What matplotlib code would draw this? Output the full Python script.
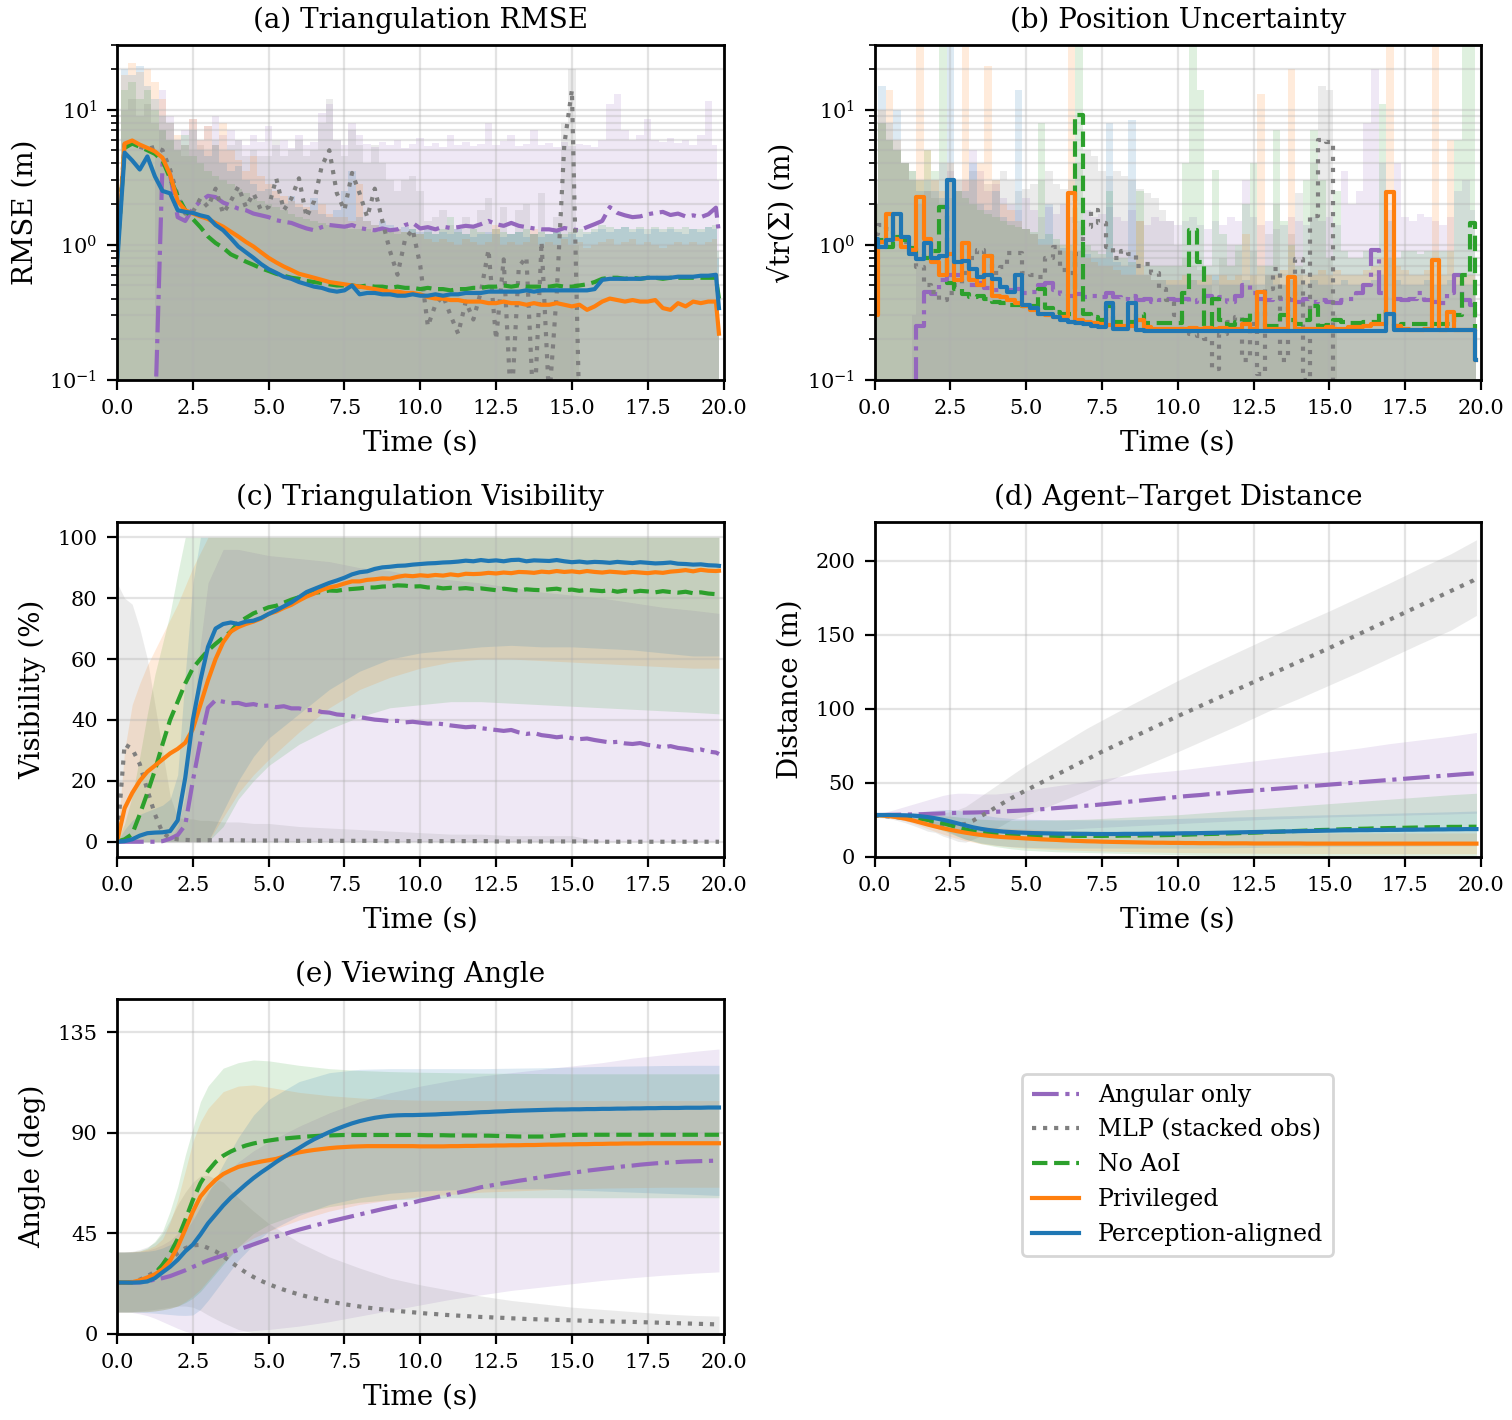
import numpy as np
import matplotlib
matplotlib.use("Agg")
import matplotlib.pyplot as plt
from matplotlib.ticker import FormatStrFormatter

plt.rcParams.update({
    "font.family": "DejaVu Serif",
    "mathtext.fontset": "dejavuserif",
    "font.size": 9,
})

nan = float("nan")

# ---------------- sample times (s) ----------------
T = [i * 0.25 for i in range(80)] + [19.85]
TB = [0, 0.25, 0.5, 0.75, 1.0, 1.25, 1.5, 1.75, 2.0, 2.25, 2.5, 2.75, 3.0, 3.5, 4.0, 4.5, 5.0,
      6.0, 7.0, 8.0, 9.0, 10.0, 11.0, 12.0, 13.0, 14.0, 15.0, 16.0, 17.0, 18.0, 19.0, 19.85]

METHODS = ["Angular only", "MLP (stacked obs)", "No AoI", "Privileged", "Perception-aligned"]
COLORS = ["#9467bd", "#7f7f7f", "#2ca02c", "#ff7f0e", "#1f77b4"]
STYLES = ["-.", ":", "--", "-", "-"]
XTICKS = [0, 2.5, 5, 7.5, 10, 12.5, 15, 17.5, 20]

# ---------------- (a) Triangulation RMSE (m) ----------------
RMSE_ANG = [nan, nan, nan, nan, nan, 0.05, 4.0, 3.3,
            1.6, 1.5, 1.85, 2.1, 2.3, 2.25, 2.05, 1.95,
            1.85, 1.8, 1.7, 1.65, 1.6, 1.52, 1.48, 1.45,
            1.38, 1.32, 1.28, 1.35, 1.4, 1.38, 1.36, 1.4,
            1.33, 1.3, 1.28, 1.32, 1.28, 1.3, 1.4, 1.45,
            1.32, 1.35, 1.3, 1.36, 1.33, 1.35, 1.38, 1.36,
            1.42, 1.5, 1.42, 1.38, 1.45, 1.38, 1.35, 1.32,
            1.3, 1.3, 1.27, 1.33, 1.3, 1.28, 1.35, 1.42,
            1.5, 1.9, 1.72, 1.65, 1.6, 1.62, 1.68, 1.72,
            1.75, 1.66, 1.7, 1.62, 1.65, 1.6, 1.68, 1.88,
            1.2]
RMSE_MLP = [0.8, 5.8, 5.6, 5.3, 5.1, 5.3, 5.0, 3.6,
            2.3, 1.7, 1.75, 2.2, 1.9, 2.6, 1.7, 2.1,
            2.7, 1.9, 2.4, 1.8, 1.9, 3.1, 1.8, 2.2,
            3.1, 1.6, 2.1, 3.8, 5.0, 2.4, 1.8, 3.4,
            2.4, 1.6, 2.6, 1.5, 0.9, 0.6, 1.1, 1.3,
            0.7, 0.25, 0.36, 0.42, 0.3, 0.22, 0.38, 0.28,
            0.45, 0.92, 0.2, 0.78, 0.06, 0.69, 0.81, 0.05,
            1.05, 0.07, 0.44, 5.5, 13.9, 0.05, nan, nan,
            nan, nan, nan, nan, nan, nan, nan, nan,
            nan, nan, nan, nan, nan, nan, nan, nan,
            nan]
RMSE_NOAOI = [0.8, 5.2, 5.6, 5.3, 5.0, 4.7, 4.2, 3.1,
              2.3, 1.8, 1.55, 1.35, 1.15, 1.03, 0.95, 0.85,
              0.8, 0.75, 0.71, 0.67, 0.64, 0.61, 0.59, 0.57,
              0.56, 0.54, 0.53, 0.52, 0.51, 0.5, 0.5, 0.5,
              0.49, 0.5, 0.49, 0.49, 0.48, 0.49, 0.48, 0.48,
              0.47, 0.48, 0.47, 0.47, 0.46, 0.47, 0.47, 0.48,
              0.48, 0.49, 0.49, 0.5, 0.49, 0.5, 0.49, 0.49,
              0.49, 0.49, 0.5, 0.49, 0.49, 0.5, 0.51, 0.53,
              0.56, 0.57, 0.57, 0.56, 0.57, 0.56, 0.57, 0.57,
              0.56, 0.57, 0.57, 0.57, 0.57, 0.57, 0.57, 0.57,
              0.4]
RMSE_PRIV = [0.8, 5.6, 5.9, 5.5, 5.2, 4.9, 4.4, 3.3,
             2.1, 1.8, 1.7, 1.62, 1.55, 1.45, 1.36, 1.25,
             1.15, 1.05, 0.97, 0.88, 0.8, 0.74, 0.69, 0.65,
             0.61, 0.59, 0.57, 0.55, 0.53, 0.52, 0.51, 0.5,
             0.49, 0.48, 0.47, 0.46, 0.45, 0.45, 0.44, 0.44,
             0.43, 0.41, 0.4, 0.4, 0.39, 0.39, 0.38, 0.38,
             0.38, 0.37, 0.37, 0.38, 0.37, 0.37, 0.36, 0.37,
             0.36, 0.36, 0.37, 0.36, 0.35, 0.36, 0.33, 0.35,
             0.38, 0.4, 0.39, 0.38, 0.39, 0.38, 0.38, 0.39,
             0.34, 0.33, 0.37, 0.35, 0.38, 0.37, 0.38, 0.38,
             0.22]
RMSE_PERC = [0.7, 4.8, 4.2, 3.6, 4.5, 3.2, 2.5, 2.4,
             1.8, 1.75, 1.72, 1.65, 1.6, 1.4, 1.28, 1.12,
             0.97, 0.88, 0.8, 0.72, 0.66, 0.62, 0.58, 0.56,
             0.53, 0.51, 0.49, 0.48, 0.46, 0.45, 0.46, 0.5,
             0.43, 0.44, 0.44, 0.43, 0.43, 0.42, 0.42, 0.43,
             0.42, 0.42, 0.43, 0.42, 0.43, 0.43, 0.44, 0.44,
             0.44, 0.45, 0.45, 0.45, 0.45, 0.45, 0.46, 0.45,
             0.46, 0.46, 0.46, 0.46, 0.46, 0.46, 0.46, 0.47,
             0.55, 0.56, 0.56, 0.56, 0.56, 0.56, 0.57, 0.57,
             0.57, 0.57, 0.58, 0.58, 0.58, 0.59, 0.59, 0.6,
             0.34]
# upper edge of the shaded spread (lower edge lies below the axis)
RMSE_ANG_HI = [nan, nan, nan, nan, nan, 5, 14, 9,
               6, 7, 8.5, 6, 7.5, 9, 6.5, 7,
               6, 5.5, 6.5, 5.8, 7.5, 5.5, 6, 5.2,
               6.5, 5.5, 5.8, 9.5, 11, 6, 5.5, 8,
               6.5, 5.6, 5.3, 5.8, 5.5, 6.0, 5.2, 5.6,
               6.2, 5.4, 5.7, 5.3, 6.5, 5.5, 5.8, 5.4,
               5.6, 8.0, 5.5, 5.9, 6.5, 5.4, 5.6, 7.0,
               5.5, 5.7, 5.3, 5.8, 5.4, 5.6, 5.5, 5.3,
               6.0, 11, 13, 7, 6.0, 6.5, 8.5, 6.0,
               5.8, 6.2, 5.7, 6.0, 5.5, 6.5, 11.5, 5.5,
               3]
RMSE_MLP_HI = [1.5, 10, 12, 9, 11, 8, 7, 6,
               5, 4.5, 5, 5.5, 5, 6, 5, 5.5,
               6, 4.5, 5, 4.5, 4.5, 6, 4.5, 5,
               6, 4.5, 5, 8, 12, 6, 4.5, 7,
               5.5, 4, 5.5, 4, 3, 2.5, 3, 3.2,
               2.5, 1.5, 1.6, 1.8, 1.4, 1.3, 1.6, 1.4,
               1.8, 2.2, 1.3, 1.9, 1.2, 1.8, 2.0, 1.2,
               2.4, 1.2, 1.6, 8, 20, 1.0, nan, nan,
               nan, nan, nan, nan, nan, nan, nan, nan,
               nan, nan, nan, nan, nan, nan, nan, nan,
               nan]
RMSE_NOAOI_HI = [1.5, 14, 16, 12, 14, 10, 7, 6,
                 5, 6.5, 4.5, 4, 3.5, 3.2, 3.0, 2.8,
                 2.6, 2.4, 2.2, 2.1, 2.0, 1.9, 1.8, 1.7,
                 1.6, 1.55, 1.5, 1.45, 1.4, 1.4, 1.35, 1.3,
                 1.3, 1.3, 1.25, 1.3, 1.25, 1.2, 1.25, 1.3,
                 1.2, 1.25, 1.2, 1.3, 1.6, 1.25, 1.2, 1.3,
                 1.25, 1.2, 1.3, 1.25, 1.2, 1.25, 1.3, 1.2,
                 1.25, 1.2, 1.25, 1.2, 1.25, 1.3, 1.25, 1.3,
                 1.4, 1.35, 1.3, 1.35, 1.3, 1.35, 1.3, 1.35,
                 1.3, 1.35, 1.3, 1.35, 1.3, 1.3, 1.35, 1.4,
                 0.9]
RMSE_PRIV_HI = [1.5, 18, 22, 19, 20, 16, 12, 8,
                6.5, 5.5, 8.5, 6, 7.5, 5.5, 8.0, 5,
                4.2, 3.5, 4.5, 3.2, 2.8, 2.5, 2.3, 2.1,
                2.0, 1.9, 1.8, 2.0, 1.7, 1.6, 1.6, 1.5,
                2.8, 1.5, 1.4, 1.35, 1.3, 1.3, 1.25, 1.2,
                1.2, 1.1, 1.05, 1.1, 1.05, 1.0, 1.1, 1.05,
                1.0, 1.05, 1.4, 1.0, 1.05, 1.0, 1.05, 1.3,
                1.0, 1.05, 1.0, 1.1, 1.0, 1.05, 0.95, 1.0,
                1.05, 1.1, 1.0, 1.05, 1.1, 1.0, 1.05, 1.0,
                0.95, 1.0, 1.05, 1.0, 1.05, 1.0, 1.05, 1.1,
                0.6]
RMSE_PERC_HI = [1.5, 20, 18, 21, 15, 12, 9, 8,
                6, 5.5, 7, 5, 4.5, 5.5, 4, 3.5,
                3.8, 3.0, 2.8, 2.5, 2.6, 2.2, 2.0, 2.3,
                1.9, 1.8, 2.2, 1.7, 1.6, 1.8, 2.5, 3.5,
                1.6, 1.5, 1.4, 1.5, 1.4, 1.3, 1.35, 1.3,
                1.25, 1.3, 1.2, 1.25, 1.2, 1.3, 1.2, 1.15,
                1.2, 1.25, 1.2, 1.15, 1.2, 1.25, 1.15, 1.2,
                1.15, 1.2, 1.25, 1.15, 1.2, 1.15, 1.2, 1.25,
                1.3, 1.25, 1.3, 1.35, 1.25, 1.3, 1.2, 1.3,
                1.25, 1.3, 1.25, 1.2, 1.3, 1.25, 1.35, 1.3,
                0.8]

# ---------------- (b) Position uncertainty sqrt(tr(Sigma)) (m) ----------------
UNC_ANG = [nan, nan, nan, nan, nan, 0.05, 0.25, 0.45,
           0.43, 0.55, 0.6, 0.6, 0.58, 0.5, 0.52, 0.48,
           0.46, 0.46, 0.46, 0.47, 0.44, 0.45, 0.5, 0.52,
           0.46, 0.43, 0.42, 0.43, 0.41, 0.42, 0.41, 0.44,
           0.41, 0.4, 0.42, 0.39, 0.4, 0.38, 0.39, 0.4,
           0.39, 0.4, 0.38, 0.39, 0.42, 0.4, 0.41, 0.38,
           0.42, 0.5, 0.44, 0.4, 0.39, 0.4, 0.4, 0.39,
           0.38, 0.4, 0.38, 0.39, 0.38, 0.37, 0.39, 0.4,
           0.44, 0.5, 0.92, 0.44, 0.39, 0.4, 0.39, 0.4,
           0.44, 0.39, 0.38, 0.37, 0.44, 0.6, 0.39, 0.36,
           0.3]
UNC_MLP = [1.2, 1.4, 1.3, 1.2, 1.05, 0.85, 0.68, 0.5,
           0.45, 0.39, 0.44, 0.5, 0.62, 0.8, 0.92, 0.82,
           0.62, 0.69, 0.87, 0.87, 0.62, 0.6, 0.58, 0.8,
           0.97, 0.65, 0.62, 0.85, 1.36, 1.8, 1.45, 0.97,
           0.8, 0.9, 0.85, 0.7, 0.72, 0.62, 0.47, 0.39,
           0.3, 0.23, 0.22, 0.21, 0.2, 0.12, 0.22, 0.27,
           0.29, 0.14, 0.26, 0.11, 0.47, 0.66, 0.14, 0.4,
           0.79, 0.1, 1.62, 5.95, 5.8, 0.05, nan, nan,
           nan, nan, nan, nan, nan, nan, nan, nan,
           nan, nan, nan, nan, nan, nan, nan, nan,
           nan]
UNC_NOAOI = [0.97, 1.09, 0.97, 1.15, 1.09, 0.95, 0.85, 0.8,
             0.9, 1.9, 0.52, 0.47, 0.43, 0.41, 0.42, 0.4,
             0.38, 0.37, 0.36, 0.36, 0.35, 0.35, 0.47, 0.34,
             0.32, 0.31, 0.31, 9.1, 0.31, 0.29, 0.28, 0.35,
             0.27, 0.27, 0.27, 0.31, 0.265, 0.265, 0.265, 0.265,
             0.265, 0.44, 1.29, 0.75, 0.25, 0.4, 0.28, 0.255,
             0.27, 0.28, 0.32, 0.25, 0.25, 0.25, 0.3, 0.28,
             0.26, 0.28, 0.35, 0.25, 0.255, 0.28, 0.27, 0.265,
             0.265, 0.27, 0.27, 0.32, 0.25, 0.25, 0.26, 0.26,
             0.26, 0.26, 0.26, 0.26, 0.26, 0.3, 0.6, 1.45,
             0.23]
UNC_PRIV = [0.3, 1.05, 1.7, 1.1, 0.97, 0.92, 2.27, 1.1,
            0.75, 0.6, 0.85, 0.55, 1.03, 0.55, 0.5, 0.82,
            0.42, 0.41, 0.39, 0.37, 0.35, 0.33, 0.31, 0.3,
            0.29, 0.29, 2.4, 0.28, 0.27, 0.265, 0.26, 0.255,
            0.25, 0.25, 0.25, 0.28, 0.245, 0.24, 0.24, 0.24,
            0.24, 0.24, 0.242, 0.24, 0.241, 0.24, 0.242, 0.24,
            0.24, 0.26, 0.24, 0.45, 0.24, 0.24, 0.24, 0.58,
            0.24, 0.24, 0.24, 0.24, 0.245, 0.24, 0.24, 0.245,
            0.245, 0.25, 0.26, 0.26, 2.47, 0.25, 0.24, 0.235,
            0.235, 0.24, 0.775, 0.235, 0.32, 0.235, 0.235, 0.235,
            0.14]
UNC_PERC = [1.1, 0.97, 1.09, 1.7, 1.15, 0.85, 0.78, 1.03,
            0.8, 0.82, 3.0, 0.74, 0.76, 0.66, 0.58, 0.6,
            0.56, 0.49, 0.45, 0.6, 0.36, 0.34, 0.31, 0.31,
            0.29, 0.28, 0.27, 0.265, 0.26, 0.25, 0.245, 0.37,
            0.24, 0.24, 0.37, 0.235, 0.23, 0.23, 0.23, 0.23,
            0.23, 0.23, 0.23, 0.23, 0.23, 0.23, 0.23, 0.23,
            0.23, 0.23, 0.23, 0.23, 0.23, 0.23, 0.23, 0.23,
            0.23, 0.23, 0.23, 0.23, 0.23, 0.23, 0.23, 0.23,
            0.23, 0.23, 0.23, 0.23, 0.31, 0.235, 0.235, 0.235,
            0.235, 0.235, 0.235, 0.235, 0.235, 0.235, 0.235, 0.235,
            0.14]
UNC_ANG_HI = [nan, nan, nan, nan, nan, 0.3, 2, 2.5,
              3, 4, 3.5, 2.5, 3, 5, 3.5, 2.5,
              2.8, 2.2, 2.0, 1.8, 2.2, 1.8, 1.6, 1.9,
              1.7, 2.0, 1.6, 1.5, 1.8, 1.6, 1.7, 1.9,
              1.6, 1.5, 1.8, 1.5, 1.4, 1.6, 1.5, 1.5,
              1.4, 1.5, 1.6, 1.4, 1.3, 1.5, 1.4, 1.6,
              1.5, 3.0, 1.6, 1.4, 1.5, 1.3, 1.4, 1.6,
              1.5, 1.4, 1.6, 1.5, 1.6, 1.4, 3.5, 2.0,
              2.5, 8, 20, 4, 1.8, 4, 1.6, 1.5,
              1.7, 1.6, 1.5, 1.4, 1.6, 2.5, 3, 1.8,
              0.8]
UNC_MLP_HI = [3, 8, 6, 5, 4, 3.5, 3, 2.5,
              2.2, 2.0, 2.2, 2.5, 3, 3.5, 3, 2.8,
              3, 3.5, 3, 2.5, 2.6, 2.8, 3.0, 3.5,
              2.8, 2.6, 3, 4, 5, 4.5, 3.5, 3.2,
              3.5, 3.2, 3.0, 2.6, 2.4, 2.2, 1.8, 1.5,
              1.0, 0.8, 0.7, 0.65, 0.6, 0.4, 0.8, 1.0,
              0.9, 0.5, 0.9, 0.4, 1.2, 2.0, 0.5, 1.2,
              2.4, 0.4, 4.0, 15, 14, 0.3, nan, nan,
              nan, nan, nan, nan, nan, nan, nan, nan,
              nan, nan, nan, nan, nan, nan, nan, nan,
              nan]
UNC_NOAOI_HI = [2, 8, 6, 5, 4, 3.5, 3, 5,
                3.5, 30, 3, 2.5, 2.2, 2.0, 1.8, 1.7,
                1.6, 1.5, 1.4, 1.35, 1.3, 1.25, 8, 1.2,
                1.1, 1.0, 1.0, 30, 1.0, 0.9, 0.85, 2.5,
                0.8, 0.8, 0.75, 2.5, 0.7, 0.7, 0.7, 0.7,
                0.7, 4, 30, 14, 0.7, 3.6, 1.2, 0.7,
                1.0, 2.0, 4, 0.7, 0.7, 7, 1.5, 1.0,
                0.7, 3, 7, 3, 0.8, 2.5, 0.9, 0.8,
                0.8, 0.9, 0.9, 11, 0.8, 0.8, 0.9, 0.9,
                0.85, 0.9, 0.9, 0.9, 0.9, 6, 30, 30,
                0.5]
UNC_PRIV_HI = [2, 10, 14, 6, 4, 3, 30, 5,
               3, 2.5, 4, 3, 29, 3, 4, 21,
               3, 2.0, 1.8, 1.5, 1.3, 1.2, 1.0, 1.0,
               1.0, 0.9, 30, 0.9, 0.8, 0.75, 0.7, 0.7,
               0.65, 0.6, 0.6, 1.5, 0.6, 0.55, 0.55, 0.55,
               0.55, 0.6, 0.55, 0.55, 0.6, 0.55, 0.6, 0.55,
               0.6, 1.2, 0.6, 13, 0.6, 0.6, 0.65, 20,
               0.6, 0.6, 0.6, 0.65, 0.6, 0.65, 0.6, 0.6,
               0.6, 0.65, 0.7, 0.8, 30, 0.7, 0.65, 0.6,
               0.6, 0.65, 30, 0.6, 6, 0.6, 0.6, 0.6,
               0.3]
UNC_PERC_HI = [2, 15, 8, 10, 4, 3, 2.5, 3,
               2.5, 2.2, 30, 3, 2.5, 4, 2, 1.8,
               2.5, 1.6, 1.5, 14, 1.3, 1.2, 1.1, 2,
               1.0, 0.95, 0.9, 0.9, 0.85, 0.8, 0.8, 8,
               0.75, 0.7, 8.3, 0.6, 0.6, 0.55, 0.55, 0.5,
               0.5, 0.5, 0.55, 0.5, 0.5, 0.6, 0.5, 0.5,
               0.5, 0.55, 0.5, 0.5, 0.6, 0.5, 0.5, 0.55,
               0.5, 0.5, 0.55, 0.5, 0.5, 0.5, 0.55, 0.5,
               0.5, 0.5, 0.55, 0.6, 1.5, 0.55, 0.5, 0.5,
               0.5, 0.55, 0.5, 0.5, 0.55, 0.5, 0.5, 0.5,
               0.3]

# ---------------- (c) Triangulation visibility (%) ----------------
VIS_ANG = [0, 0, 0, 0, 0, 0, 0.2, 1.0,
           2.2, 5.5, 20, 33, 44, 46.5, 46, 45.5,
           45.6, 44.9, 45.2, 44.6, 44.7, 44.2, 44.5, 43.8,
           43.8, 43.2, 43.3, 42.6, 42.4, 41.8, 41.6, 41.2,
           40.9, 40.5, 40.1, 39.9, 39.6, 39.7, 39.2, 39.4,
           39.1, 38.8, 38.9, 38.6, 38.2, 37.9, 37.6, 37.8,
           37.3, 37.0, 36.7, 36.4, 36.7, 35.9, 35.4, 35.7,
           35.0, 34.7, 34.3, 34.6, 34.0, 33.7, 33.9, 33.4,
           33.0, 32.6, 32.8, 32.3, 32.1, 32.4, 31.8, 31.5,
           31.0, 31.4, 30.8, 30.5, 30.0, 30.3, 29.6, 29.3,
           28.8]
VIS_MLP = [0, 32, 30.5, 25.5, 17, 9, 3, 1.2,
           0.8, 0.6, 0.5, 0.5, 0.5, 0.5, 0.5, 0.5,
           0.5, 0.4, 0.4, 0.4, 0.4, 0.4, 0.4, 0.3,
           0.3, 0.3, 0.3, 0.3, 0.3, 0.3, 0.3, 0.3,
           0.3, 0.3, 0.3, 0.2, 0.2, 0.2, 0.2, 0.2,
           0.2, 0.2, 0.2, 0.2, 0.2, 0.2, 0.2, 0.2,
           0.2, 0.2, 0.1, 0.1, 0.1, 0.1, 0.1, 0.1,
           0.1, 0.1, 0.1, 0.1, 0.1, 0.1, 0.1, 0.1,
           0.0, 0.0, 0.0, 0.0, 0.0, 0.0, 0.0, 0.0,
           0.0, 0.0, 0.0, 0.0, 0.0, 0.0, 0.0, 0.0,
           0.0]
VIS_NOAOI = [0, 0.8, 2.5, 9, 16, 23.5, 32, 40,
             46, 52, 57, 60, 62.8, 65, 67, 69,
             72, 73.5, 75, 76, 77, 77.5, 78.5, 79.5,
             80.3, 81, 81.8, 82, 82.5, 82.4, 82.8, 83,
             83.2, 83.5, 83.5, 83.8, 83.9, 84.2, 84.1, 83.8,
             83.9, 83.5, 83.6, 83.2, 83.4, 83.1, 83.3, 83.0,
             83.2, 82.9, 82.6, 83.1, 82.8, 82.5, 82.9, 82.7,
             82.6, 82.9, 83.1, 82.6, 82.8, 82.4, 82.7, 82.5,
             82.3, 82.6, 82.1, 82.5, 82.0, 82.4, 82.2, 81.9,
             82.3, 82.0, 81.8, 82.1, 81.6, 81.9, 81.5, 81.3,
             81.4]
VIS_PRIV = [0, 11, 16, 20, 23, 25, 27, 29,
            30.5, 32.5, 37, 45, 53, 60, 65.5, 69,
            70.5, 71.5, 72.3, 73.3, 74.8, 75.6, 76.8, 77.8,
            79.2, 80.5, 81.5, 82.7, 83.5, 84, 84.8, 85.5,
            85.5, 86, 86.2, 86.5, 86.4, 87, 87.4, 87.2,
            87.5, 87.3, 87.6, 87.4, 87.8, 87.5, 88, 87.9,
            88, 88.3, 88.1, 88.4, 88.2, 88.6, 88.5, 88.3,
            88.7, 88.5, 88.9, 88.6, 88.8, 88.5, 88.9, 88.6,
            88.4, 88.7, 88.5, 88.3, 88.6, 88.4, 88.2, 88.5,
            88.3, 88.7, 88.9, 89.2, 88.8, 89.3, 89.0, 88.9,
            89.0]
VIS_PERC = [0, 0.2, 0.8, 2.0, 2.8, 3.0, 3.1, 3.5,
            7, 21, 40, 53, 64, 70, 71.5, 72,
            71.5, 72.3, 72.6, 73.5, 74.8, 76, 77.3, 78.6,
            80.3, 82, 83, 84, 85, 85.8, 86.7, 87.8,
            88.5, 88.8, 89.6, 90.1, 90.3, 90.6, 90.7, 91,
            91.2, 91.4, 91.5, 91.7, 91.8, 92, 92.3, 92.1,
            92.5, 92.2, 92.4, 92.1, 92.5, 92.6, 92.1, 92.4,
            92.3, 92.2, 92.5, 92.1, 91.8, 92, 91.7, 91.9,
            91.8, 91.6, 91.9, 91.7, 91.5, 91.8, 91.6, 91.4,
            91.5, 91.7, 91.3, 91.2, 91.0, 91.1, 90.8, 90.7,
            90.6]
VIS_ANG_HI = [0, 0, 0, 0, 0, 0, 0, 0.5, 5, 15, 40, 65, 85, 96, 96, 95, 94,
              93, 92, 90, 89, 87, 86, 85, 83.5, 82, 81, 80, 78.5, 77, 76, 75]
VIS_ANG_LO = [0] * 32
VIS_MLP_HI = [85, 80, 78, 70, 60, 45, 30, 15, 8, 7.5, 7.5, 7, 7, 6.5, 6.5, 6, 6,
              5, 4.5, 4, 3.5, 3, 2.5, 2.5, 2, 2, 2, 0, 0, 0, 0, 0]
VIS_MLP_LO = [0] * 32
VIS_NOAOI_HI = [0, 6, 15, 28, 42, 55, 65, 75, 88, 100, 100, 100, 100, 100, 100, 100, 100,
                100, 100, 100, 100, 100, 100, 100, 100, 100, 100, 100, 100, 100, 100, 100]
VIS_NOAOI_LO = [0, 0, 0, 0, 0, 0, 0, 0, 0, 0, 0, 0, 0, 5, 14, 20, 25,
                32, 37, 41, 44, 45, 46, 46, 45.5, 45, 44.5, 44, 43.5, 43, 42.5, 42]
VIS_PRIV_HI = [0, 30, 45, 52, 58, 63, 68, 73, 78, 84, 90, 95, 100, 100, 100, 100, 100,
               100, 100, 100, 100, 100, 100, 100, 100, 100, 100, 100, 100, 100, 100, 100]
VIS_PRIV_LO = [0, 0, 0, 0, 0, 0, 0, 0, 0, 0, 0, 0, 0, 8, 16, 22, 27,
               36, 44, 50, 54, 57, 59, 60, 60, 59.5, 59, 58.5, 58, 57.5, 57, 57]
VIS_PERC_HI = [0, 4, 7, 9, 10, 11, 12, 14, 22, 55, 85, 100, 100, 100, 100, 100, 100,
               100, 100, 100, 100, 100, 100, 100, 100, 100, 100, 100, 100, 100, 100, 100]
VIS_PERC_LO = [0, 0, 0, 0, 0, 0, 0, 0, 0, 0, 0, 0, 0, 10, 20, 28, 34,
               42, 50, 56, 60, 62, 63, 64, 64.5, 64, 64, 63.5, 63, 62, 61, 61]

# ---------------- (d) Agent-target distance (m) ----------------
DIST_ANG = [28.3, 28.3, 28.4, 28.5, 28.6, 28.7, 28.8, 29.0,
            29.2, 29.4, 29.6, 29.8, 29.9, 30.0, 30.1, 30.3,
            30.5, 30.7, 31.0, 31.2, 31.5, 31.8, 32.2, 32.6,
            33.0, 33.4, 33.8, 34.2, 34.6, 35.0, 35.5, 36.0,
            36.5, 37.0, 37.5, 38.0, 38.5, 39.0, 39.5, 40.0,
            40.5, 41.0, 41.4, 41.8, 42.3, 42.7, 43.1, 43.5,
            44.0, 44.4, 44.8, 45.2, 45.6, 46.0, 46.4, 46.8,
            47.2, 47.6, 48.0, 48.4, 48.8, 49.2, 49.6, 50.0,
            50.4, 50.8, 51.2, 51.6, 52.0, 52.4, 52.8, 53.2,
            53.6, 54.0, 54.4, 54.8, 55.2, 55.6, 56.0, 56.3,
            56.5]
DIST_MLP = [27.8, 27.6, 27.3, 26.8, 26.2, 25.4, 24.5, 23.5,
            22.6, 21.9, 21.5, 21.5, 22.3, 24.5, 27.5, 30.3,
            33.5, 36.5, 39.5, 42.3, 45.0, 47.6, 50.2, 52.8,
            55.4, 58.0, 60.6, 63.2, 65.8, 68.4, 71.0, 73.4,
            75.8, 78.2, 80.6, 83.0, 85.4, 87.8, 90.2, 92.6,
            95.0, 97.3, 99.6, 101.9, 104.2, 106.5, 108.8, 111.1,
            113.4, 115.7, 118.0, 120.3, 122.6, 124.9, 127.2, 129.5,
            131.8, 134.1, 136.4, 138.7, 141.0, 143.4, 145.8, 148.2,
            150.6, 153.0, 155.4, 157.8, 160.2, 162.6, 165.0, 167.4,
            169.8, 172.2, 174.6, 177.0, 179.4, 181.8, 184.2, 186.6,
            188.0]
DIST_NOAOI = [28.3, 28.2, 28.0, 27.6, 27.1, 26.5, 25.8, 25.0,
              24.0, 22.8, 21.4, 20.0, 18.6, 17.4, 16.5, 15.8,
              15.3, 14.9, 14.6, 14.4, 14.3, 14.2, 14.2, 14.2,
              14.2, 14.2, 14.2, 14.2, 14.2, 14.2, 14.2, 14.3,
              14.3, 14.4, 14.4, 14.5, 14.6, 14.6, 14.7, 14.8,
              14.9, 15.0, 15.2, 15.3, 15.5, 15.6, 15.8, 15.9,
              16.1, 16.3, 16.4, 16.6, 16.8, 17.0, 17.2, 17.4,
              17.6, 17.8, 18.0, 18.2, 18.3, 18.5, 18.7, 18.8,
              19.0, 19.1, 19.3, 19.4, 19.5, 19.6, 19.7, 19.8,
              19.9, 20.0, 20.1, 20.2, 20.3, 20.3, 20.4, 20.4,
              20.4]
DIST_PRIV = [28.3, 28.0, 27.5, 26.8, 25.9, 24.7, 23.3, 21.9,
             20.6, 19.4, 18.3, 17.3, 16.4, 15.6, 14.9, 14.3,
             13.8, 13.4, 13.1, 12.8, 12.5, 12.2, 11.9, 11.7,
             11.5, 11.2, 11.0, 10.8, 10.6, 10.5, 10.3, 10.2,
             10.1, 10.0, 9.9, 9.8, 9.7, 9.6, 9.6, 9.5,
             9.5, 9.4, 9.4, 9.3, 9.3, 9.3, 9.2, 9.2,
             9.2, 9.2, 9.1, 9.1, 9.1, 9.1, 9.1, 9.1,
             9.1, 9.0, 9.0, 9.0, 9.0, 9.0, 9.0, 9.0,
             9.0, 9.0, 9.0, 9.0, 9.0, 9.0, 9.0, 9.0,
             9.0, 9.0, 9.0, 9.0, 9.0, 9.0, 9.0, 9.0,
             9.0]
DIST_PERC = [28.3, 28.3, 28.3, 28.2, 28.1, 27.9, 27.5, 26.9,
             26.1, 25.1, 23.9, 22.6, 21.3, 20.0, 19.0, 18.2,
             17.6, 17.1, 16.8, 16.5, 16.3, 16.1, 16.0, 15.9,
             15.8, 15.7, 15.7, 15.6, 15.6, 15.5, 15.5, 15.5,
             15.5, 15.6, 15.6, 15.6, 15.7, 15.7, 15.8, 15.8,
             15.9, 16.0, 16.0, 16.1, 16.2, 16.3, 16.4, 16.5,
             16.6, 16.7, 16.8, 16.9, 17.0, 17.1, 17.2, 17.3,
             17.4, 17.5, 17.6, 17.7, 17.8, 17.9, 18.0, 18.0,
             18.1, 18.1, 18.2, 18.2, 18.3, 18.3, 18.4, 18.4,
             18.5, 18.5, 18.6, 18.6, 18.7, 18.7, 18.8, 18.8,
             18.8]
DIST_ANG_HI = [28.5, 29.5, 31, 32.5, 34, 35.5, 37, 38.5, 40, 41.5, 42.5, 43, 43, 42.5, 42.5, 43.5,
               45, 48, 51, 54, 56.5, 58.5, 61, 63.5, 66, 68.5, 71, 73.5, 76.5, 79, 81.5, 84]
DIST_ANG_LO = [28, 27.5, 26.5, 25.5, 24.5, 23.5, 22.5, 21.5, 20.5, 19.5, 18.5, 17.8, 17.2, 16.5,
               16.2, 16.5, 17, 18, 19.5, 20.5, 21.5, 22.5, 23.5, 24.5, 25.5, 26.2, 27, 27.5, 28,
               28.5, 29, 29.5]
DIST_MLP_HI = [28.8, 28.8, 28.8, 29, 29.2, 29.4, 29.5, 29.6, 29.6, 29.8, 30.5, 32, 34, 41, 48, 55,
               62, 74.4, 86.8, 97.8, 108.4, 119, 129, 138.5, 148, 157, 166, 175.5, 185, 195,
               204.5, 214]
DIST_MLP_LO = [26.8, 26.4, 25.8, 24.6, 23.2, 21.4, 19.5, 17.4, 16.6, 14.1, 12.5, 10.5, 10, 14, 19,
               25, 28, 36.4, 44.8, 53.8, 62.4, 71, 80, 89, 98.5, 107, 116, 125, 134.5, 144,
               153, 163]
DIST_NOAOI_HI = [28.8, 28.7, 28.7, 28.6, 28.5, 28.4, 28.3, 28.2, 28, 27.8, 27.5, 27, 26.5, 25.5,
                 25, 24.8, 24.8, 25, 25.5, 26.5, 27.5, 28.5, 30, 31.5, 33, 34.5, 36, 37.5, 39,
                 40.5, 42, 43]
DIST_NOAOI_LO = [27.8, 27.7, 27.3, 26.6, 25.7, 24.5, 23.2, 21.6, 19.8, 17.8, 15.8, 13.8, 12, 9, 7,
                 5.5, 4.5, 3.5, 3, 2.5, 2, 1.5, 1, 0.5, 0, 0, 0, 0, 0, 0, 0, 0]
DIST_PRIV_HI = [28.8, 28.6, 28.3, 27.8, 27.2, 26.5, 25.6, 24.7, 24, 23.4, 22.8, 22.2, 21.6, 20.5,
                19.8, 19.2, 18.8, 18, 17.5, 17, 16.8, 16.5, 16.4, 16.3, 16.2, 16.2, 16.2, 16.2,
                16.2, 16.2, 16.2, 16.2]
DIST_PRIV_LO = [27.8, 27.4, 26.7, 25.8, 24.6, 22.9, 21, 19.1, 17.2, 15.4, 13.8, 12.4, 11, 9, 7.8,
                6.8, 6, 5, 4.3, 3.8, 3.4, 3, 2.8, 2.6, 2.5, 2.4, 2.3, 2.3, 2.2, 2.2, 2.2, 2.2]
DIST_PERC_HI = [28.8, 28.8, 28.9, 29.2, 29.6, 30, 30.5, 31, 31.5, 32, 32, 31.5, 30.5, 28.5, 27,
                26, 25.5, 25, 25, 25, 25.5, 26, 26.5, 27, 27.5, 28, 28.5, 29, 29.5, 30, 30.5, 31]
DIST_PERC_LO = [27.8, 27.8, 27.7, 27.3, 26.8, 26.1, 25, 23.5, 21.5, 19, 16.5, 14, 12, 9.5, 8, 7,
                6.5, 6, 6, 6, 6, 6, 6, 6.3, 6.5, 6.7, 7, 7, 7.2, 7.3, 7.5, 7.5]

# ---------------- (e) Viewing angle (deg) ----------------
ANGLE_ANG = [23.0, 23.0, 23.0, 23.1, 23.5, 24.4, 25.0, 25.9,
             27.2, 28.5, 30.0, 31.5, 32.9, 34.1, 35.2, 36.5,
             37.7, 38.9, 40.1, 41.3, 42.5, 43.6, 44.6, 45.7,
             46.7, 47.6, 48.5, 49.4, 50.3, 51.1, 51.9, 52.7,
             53.5, 54.3, 55.1, 55.9, 56.6, 57.3, 58.0, 58.8,
             59.7, 60.4, 61.1, 61.9, 62.6, 63.3, 64.0, 64.8,
             65.7, 66.3, 66.9, 67.5, 68.0, 68.6, 69.1, 69.7,
             70.2, 70.7, 71.2, 71.7, 72.2, 72.6, 73.1, 73.5,
             73.9, 74.3, 74.7, 75.1, 75.4, 75.8, 76.1, 76.4,
             76.6, 76.8, 77.0, 77.2, 77.3, 77.4, 77.5, 77.6,
             77.6]
ANGLE_MLP = [23.0, 23.0, 23.3, 24.3, 25.9, 27.8, 30.2, 33.2,
             36.2, 38.4, 39.7, 39.9, 38.5, 37.0, 34.8, 32.3,
             29.8, 27.5, 25.5, 23.8, 22.3, 21.0, 19.8, 18.7,
             17.7, 16.8, 16.0, 15.2, 14.5, 13.9, 13.3, 12.8,
             12.3, 11.8, 11.4, 11.0, 10.6, 10.3, 10.0, 9.7,
             9.4, 9.1, 8.9, 8.6, 8.4, 8.2, 8.0, 7.8,
             7.6, 7.5, 7.3, 7.2, 7.0, 6.9, 6.7, 6.6,
             6.5, 6.4, 6.3, 6.2, 6.1, 6.0, 5.9, 5.8,
             5.7, 5.6, 5.5, 5.5, 5.4, 5.3, 5.2, 5.1,
             5.0, 4.9, 4.8, 4.7, 4.6, 4.5, 4.4, 4.3,
             4.2]
ANGLE_NOAOI = [23.0, 23.0, 23.1, 23.5, 24.6, 27.0, 31.0, 36.0,
               42.5, 51.0, 60.0, 67.5, 73.0, 77.0, 79.8, 81.7,
               83.2, 84.4, 85.3, 86.0, 86.6, 87.1, 87.5, 87.8,
               88.1, 88.4, 88.6, 88.8, 88.9, 89.0, 89.1, 89.1,
               89.1, 89.1, 89.1, 89.1, 89.1, 89.1, 89.1, 89.1,
               89.1, 89.0, 89.0, 89.0, 88.9, 88.9, 88.9, 88.9,
               88.8, 88.8, 88.7, 88.6, 88.5, 88.4, 88.4, 88.4,
               88.4, 88.6, 88.8, 89.0, 89.1, 89.2, 89.2, 89.2,
               89.2, 89.2, 89.2, 89.2, 89.2, 89.2, 89.2, 89.2,
               89.2, 89.2, 89.2, 89.2, 89.2, 89.2, 89.2, 89.2,
               89.2]
ANGLE_PRIV = [23.0, 23.0, 23.2, 24.0, 25.3, 26.7, 29.0, 32.8,
              39.0, 46.8, 54.8, 61.5, 65.6, 69.0, 71.6, 73.3,
              74.8, 75.7, 76.5, 77.2, 77.8, 78.4, 79.4, 80.5,
              81.3, 81.9, 82.4, 82.8, 83.2, 83.5, 83.7, 83.9,
              84.0, 84.1, 84.1, 84.1, 84.1, 84.1, 84.1, 84.1,
              84.0, 84.0, 84.0, 84.0, 84.1, 84.1, 84.2, 84.2,
              84.3, 84.3, 84.4, 84.4, 84.5, 84.5, 84.6, 84.6,
              84.7, 84.8, 84.8, 84.9, 84.9, 85.0, 85.0, 85.1,
              85.1, 85.2, 85.2, 85.3, 85.3, 85.3, 85.4, 85.4,
              85.4, 85.4, 85.4, 85.4, 85.4, 85.4, 85.4, 85.4,
              85.4]
ANGLE_PERC = [23.0, 23.0, 23.0, 23.1, 23.5, 25.0, 27.6, 30.1,
              33.2, 37.0, 40.0, 44.5, 49.5, 53.5, 57.5, 61.0,
              64.0, 67.0, 69.8, 72.3, 74.6, 77.0, 79.2, 81.2,
              83.2, 85.3, 87.2, 88.8, 90.4, 91.8, 93.1, 94.3,
              95.3, 96.1, 96.8, 97.3, 97.7, 97.9, 98.0, 98.0,
              98.1, 98.2, 98.3, 98.5, 98.6, 98.8, 98.9, 99.1,
              99.3, 99.4, 99.6, 99.7, 99.9, 100.0, 100.1, 100.2,
              100.3, 100.4, 100.5, 100.5, 100.6, 100.6, 100.7, 100.7,
              100.8, 100.8, 100.9, 100.9, 101.0, 101.0, 101.1, 101.1,
              101.2, 101.2, 101.2, 101.3, 101.3, 101.3, 101.4, 101.4,
              101.4]
ANGLE_ANG_HI = [36.7, 36.7, 36.8, 37, 37.5, 38.5, 40, 42, 45, 49, 54, 59, 64, 71, 77, 82, 86, 93,
                99, 104, 108, 111, 113.5, 115.5, 117, 118.5, 120, 121.5, 123.5, 125, 126.5, 127.6]
ANGLE_ANG_LO = [9.8, 9.8, 9.6, 9, 8.2, 7, 5.5, 4, 2.5, 1.2, 0.3, 0, 0, 0.3, 1, 1.5, 2, 3.5, 5.5,
                8, 10.5, 13, 15.5, 17.5, 19.5, 21, 22.5, 24, 25.2, 26.3, 27.2, 27.8]
ANGLE_MLP_HI = [36.7, 36.7, 37, 37.8, 39, 41, 45, 51, 58, 63.5, 68, 70.8, 71, 68, 61, 55, 49.5,
                41, 34.5, 29.5, 25, 22, 19.5, 17, 15, 13.5, 12, 11, 10, 9, 8.3, 8]
ANGLE_MLP_LO = [9.8, 9.8, 10, 10.3, 10.6, 11, 11.5, 12, 12.5, 12.5, 12, 10.5, 8.5, 5, 2, 0.5, 0,
                0, 0, 0, 0, 0, 0, 0, 0, 0, 0, 0, 0, 0, 0, 0]
ANGLE_NOAOI_HI = [36.7, 36.7, 36.8, 37.2, 38.5, 41.5, 46, 55, 66, 80, 92, 104, 111, 119, 121.5,
                  122.7, 122.3, 120.3, 118.8, 118, 117.5, 117.2, 117, 116.8, 116.7, 116.6, 116.5,
                  116.5, 116.5, 116.5, 116.5, 116.5]
ANGLE_NOAOI_LO = [9.8, 9.8, 9.8, 9.9, 10, 10.3, 10.8, 11.5, 12.5, 14, 16, 19, 23, 31, 39, 45, 49,
                  54, 57, 59, 60, 60.5, 61, 61, 61, 61, 61, 61, 61, 61, 61, 61]
ANGLE_PRIV_HI = [36.7, 36.7, 36.8, 37.1, 38, 39.5, 42.5, 50, 60, 73, 86, 95, 101, 108.5, 111,
                 111.5, 110.5, 108.2, 106.7, 105.7, 105, 104.7, 104.6, 104.5, 104.5, 104.5, 104.5,
                 104.5, 104.5, 104.5, 104.5, 104.5]
ANGLE_PRIV_LO = [9.8, 9.8, 9.8, 9.9, 10, 10.3, 10.8, 11.5, 12.5, 14.5, 17, 20, 24, 32, 39, 43, 46,
                 51, 55, 58, 60, 61.5, 62.5, 63.5, 64, 64.5, 65, 65.3, 65.5, 65.7, 65.7, 65.7]
ANGLE_PERC_HI = [36.7, 36.7, 36.7, 36.8, 37, 37.5, 38.5, 40, 42, 46, 51, 57, 63, 76, 88, 98, 105,
                 113, 117, 118.5, 118.8, 118.8, 118.8, 118.8, 119, 119.2, 119.5, 119.8, 120, 120.2,
                 120.3, 120.3]
ANGLE_PERC_LO = [9.8, 9.8, 9.8, 9.7, 9.5, 9.3, 9, 8.7, 8.4, 8.3, 8.5, 11, 15, 24, 33, 40, 46, 53,
                 58, 61, 63, 64, 64.5, 65, 65, 65, 64.5, 64, 63.5, 63, 62.5, 62]

LOG_FLOOR = 1e-3  # spread lower edge falls below the log axis


def panel(ax, t_line, series, t_band, lows, highs, step=None, ds="default"):
    for c, lo, hi in zip(COLORS, lows, highs):
        ax.fill_between(t_band, lo, hi, color=c, alpha=0.15, linewidth=0, step=step)
    for name, c, ls, y in zip(METHODS, COLORS, STYLES, series):
        ax.plot(t_line, y, color=c, ls=ls, lw=1.5, label=name, drawstyle=ds)


fig, axes = plt.subplots(3, 2, figsize=(7.56, 7.10), dpi=200)
fig.subplots_adjust(left=0.0774, right=0.9795, top=0.9683, bottom=0.0606,
                    wspace=0.249, hspace=0.424)
axA, axB = axes[0]
axC, axD = axes[1]
axE, axL = axes[2]

floorA = [LOG_FLOOR] * len(T)
panel(axA, T, [RMSE_ANG, RMSE_MLP, RMSE_NOAOI, RMSE_PRIV, RMSE_PERC], T,
      [floorA] * 5, [RMSE_ANG_HI, RMSE_MLP_HI, RMSE_NOAOI_HI, RMSE_PRIV_HI, RMSE_PERC_HI],
      step="mid")
panel(axB, T, [UNC_ANG, UNC_MLP, UNC_NOAOI, UNC_PRIV, UNC_PERC], T,
      [floorA] * 5, [UNC_ANG_HI, UNC_MLP_HI, UNC_NOAOI_HI, UNC_PRIV_HI, UNC_PERC_HI],
      step="mid", ds="steps-mid")
panel(axC, T, [VIS_ANG, VIS_MLP, VIS_NOAOI, VIS_PRIV, VIS_PERC], TB,
      [VIS_ANG_LO, VIS_MLP_LO, VIS_NOAOI_LO, VIS_PRIV_LO, VIS_PERC_LO],
      [VIS_ANG_HI, VIS_MLP_HI, VIS_NOAOI_HI, VIS_PRIV_HI, VIS_PERC_HI])
panel(axD, T, [DIST_ANG, DIST_MLP, DIST_NOAOI, DIST_PRIV, DIST_PERC], TB,
      [DIST_ANG_LO, DIST_MLP_LO, DIST_NOAOI_LO, DIST_PRIV_LO, DIST_PERC_LO],
      [DIST_ANG_HI, DIST_MLP_HI, DIST_NOAOI_HI, DIST_PRIV_HI, DIST_PERC_HI])
panel(axE, T, [ANGLE_ANG, ANGLE_MLP, ANGLE_NOAOI, ANGLE_PRIV, ANGLE_PERC], TB,
      [ANGLE_ANG_LO, ANGLE_MLP_LO, ANGLE_NOAOI_LO, ANGLE_PRIV_LO, ANGLE_PERC_LO],
      [ANGLE_ANG_HI, ANGLE_MLP_HI, ANGLE_NOAOI_HI, ANGLE_PRIV_HI, ANGLE_PERC_HI])

for ax in (axA, axB):
    ax.set_yscale("log")
    ax.set_ylim(0.1, 30)
axA.set_ylabel("RMSE (m)")
axB.set_ylabel("√tr(Σ) (m)")
axC.set_ylim(-5, 105)
axC.set_yticks([0, 20, 40, 60, 80, 100])
axC.set_ylabel("Visibility (%)")
axD.set_ylim(0, 226)
axD.set_yticks([0, 50, 100, 150, 200])
axD.set_ylabel("Distance (m)")
axE.set_ylim(0, 150)
axE.set_yticks([0, 45, 90, 135])
axE.set_ylabel("Angle (deg)")

titles = ["(a) Triangulation RMSE", "(b) Position Uncertainty", "(c) Triangulation Visibility",
          "(d) Agent–Target Distance", "(e) Viewing Angle"]
for ax, ttl in zip((axA, axB, axC, axD, axE), titles):
    ax.set_title(ttl, fontsize=10)
    ax.set_xlim(0, 20)
    ax.set_xticks(XTICKS)
    ax.xaxis.set_major_formatter(FormatStrFormatter("%.1f"))
    ax.set_xlabel("Time (s)", fontsize=10)
    ax.yaxis.label.set_size(10)
    ax.tick_params(labelsize=7.5)
    ax.grid(True, which="both", color="#b0b0b0", alpha=0.35, lw=0.8)
    for s in ax.spines.values():
        s.set_linewidth(1.0)

axL.axis("off")
handles, labels = axE.get_legend_handles_labels()
fig.legend(handles, labels, loc="center", bbox_to_anchor=(0.7788, 0.1796), fontsize=8.5)

fig.savefig("out.png", dpi=200)
